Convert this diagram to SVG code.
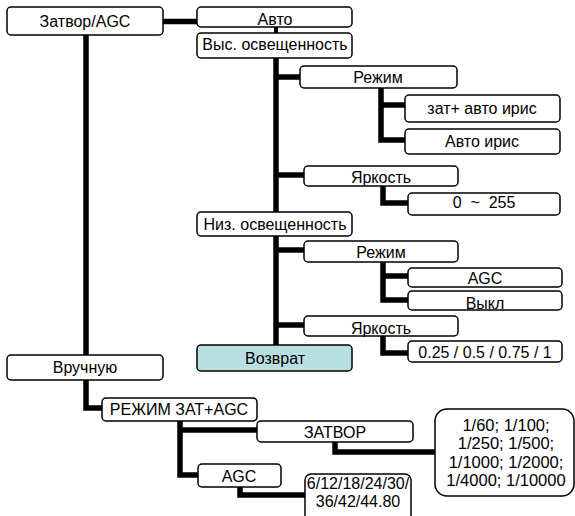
<svg xmlns="http://www.w3.org/2000/svg" width="575" height="516" viewBox="0 0 575 516">
<style>
.b{fill:#fff;stroke:#000;stroke-width:1.5}
.r{fill:#b9dfe2;stroke:#000;stroke-width:1.5}
.t{font-family:"Liberation Sans",Arial,sans-serif;font-size:16px;fill:#000;text-anchor:middle;white-space:pre}
.c{fill:none;stroke:#000;stroke-width:5.5;stroke-linejoin:miter}
</style>
<rect width="575" height="516" fill="#fff"/>
<g id="connectors">
<path class="c" d="M163,21.5H197"/>
<path class="c" d="M276,27V33" style="stroke-width:4"/>
<path class="c" d="M86,35V355"/>
<path class="c" d="M276,58V345"/>
<path class="c" d="M276,77H300"/>
<path class="c" d="M381,88V140H405"/>
<path class="c" d="M381,105H405"/>
<path class="c" d="M276,175H304"/>
<path class="c" d="M383,186V203H408"/>
<path class="c" d="M276,250H304"/>
<path class="c" d="M383,262V300H408"/>
<path class="c" d="M383,276H408"/>
<path class="c" d="M276,325H304"/>
<path class="c" d="M383,336V353H408"/>
<path class="c" d="M86,380V408H102"/>
<path class="c" d="M180,421V475H198"/>
<path class="c" d="M180,430H257"/>
<path class="c" d="M335,442V452H435"/>
<path class="c" d="M240,487V495H305"/>
</g>
<g id="n1"><rect class="b" x="7" y="7" width="156" height="28" rx="4"/><text class="t" x="85" y="26.5">Затвор/AGC</text></g>
<g id="n2"><rect class="b" x="197" y="7" width="155" height="20" rx="4"/><text class="t" x="275" y="25">Авто</text></g>
<g id="n3"><rect class="b" x="197" y="33" width="155" height="25" rx="4"/><text class="t" x="275" y="50">Выс. освещенность</text></g>
<g id="n4"><rect class="b" x="300" y="66" width="157" height="22" rx="4"/><text class="t" x="378" y="83">Режим</text></g>
<g id="n5"><rect class="b" x="405" y="95" width="155" height="27" rx="4"/><text class="t" x="482" y="114">зат+ авто ирис</text></g>
<g id="n6"><rect class="b" x="405" y="129" width="155" height="25" rx="4"/><text class="t" x="482" y="147">Авто ирис</text></g>
<g id="n7"><rect class="b" x="304" y="166" width="154" height="20" rx="4"/><text class="t" x="381" y="183">Яркость</text></g>
<g id="n8"><rect class="b" x="408" y="193" width="152" height="22" rx="4"/><text class="t" x="484" y="208" xml:space="preserve">0  ~  255</text></g>
<g id="n9"><rect class="b" x="197" y="212" width="155" height="24" rx="4"/><text class="t" x="275" y="230">Низ. освещенность</text></g>
<g id="n10"><rect class="b" x="304" y="241" width="154" height="21" rx="4"/><text class="t" x="381" y="258">Режим</text></g>
<g id="n11"><rect class="b" x="408" y="268" width="154" height="19" rx="4"/><text class="t" x="485" y="284">AGC</text></g>
<g id="n12"><rect class="b" x="408" y="291" width="154" height="19" rx="4"/><text class="t" x="485" y="308.5">Выкл</text></g>
<g id="n13"><rect class="b" x="304" y="316" width="154" height="20" rx="4"/><text class="t" x="381" y="333.5">Яркость</text></g>
<g id="n14"><rect class="b" x="408" y="341" width="154" height="21" rx="4"/><text class="t" x="485" y="357.5">0.25 / 0.5 / 0.75 / 1</text></g>
<g id="n15"><rect class="r" x="197" y="345" width="155" height="26" rx="4"/><text class="t" x="275" y="363.5">Возврат</text></g>
<g id="n16"><rect class="b" x="7" y="355" width="156" height="25" rx="4"/><text class="t" x="85" y="373">Вручную</text></g>
<g id="n17"><rect class="b" x="102" y="398" width="155" height="23" rx="4"/><text class="t" x="179" y="415">РЕЖИМ ЗАТ+AGC</text></g>
<g id="n18"><rect class="b" x="257" y="421" width="156" height="21" rx="4"/><text class="t" x="335" y="438">ЗАТВОР</text></g>
<g id="n19"><rect class="b" x="198" y="464" width="83" height="23" rx="4"/><text class="t" x="239" y="482">AGC</text></g>
<g id="n20"><rect class="b" x="305" y="474" width="106" height="48" rx="6"/><text class="t" x="358" y="488.5">6/12/18/24/30/</text><text class="t" x="358" y="507">36/42/44.80</text></g>
<g id="n21"><rect class="b" x="435" y="409" width="139" height="87" rx="12"/><text class="t" x="506" y="431" style="font-size:16.5px">1/60; 1/100;</text><text class="t" x="506" y="449" style="font-size:16.5px">1/250; 1/500;</text><text class="t" x="506" y="467.5" style="font-size:16.5px">1/1000; 1/2000;</text><text class="t" x="506" y="486" style="font-size:16.5px">1/4000; 1/10000</text></g>
</svg>
